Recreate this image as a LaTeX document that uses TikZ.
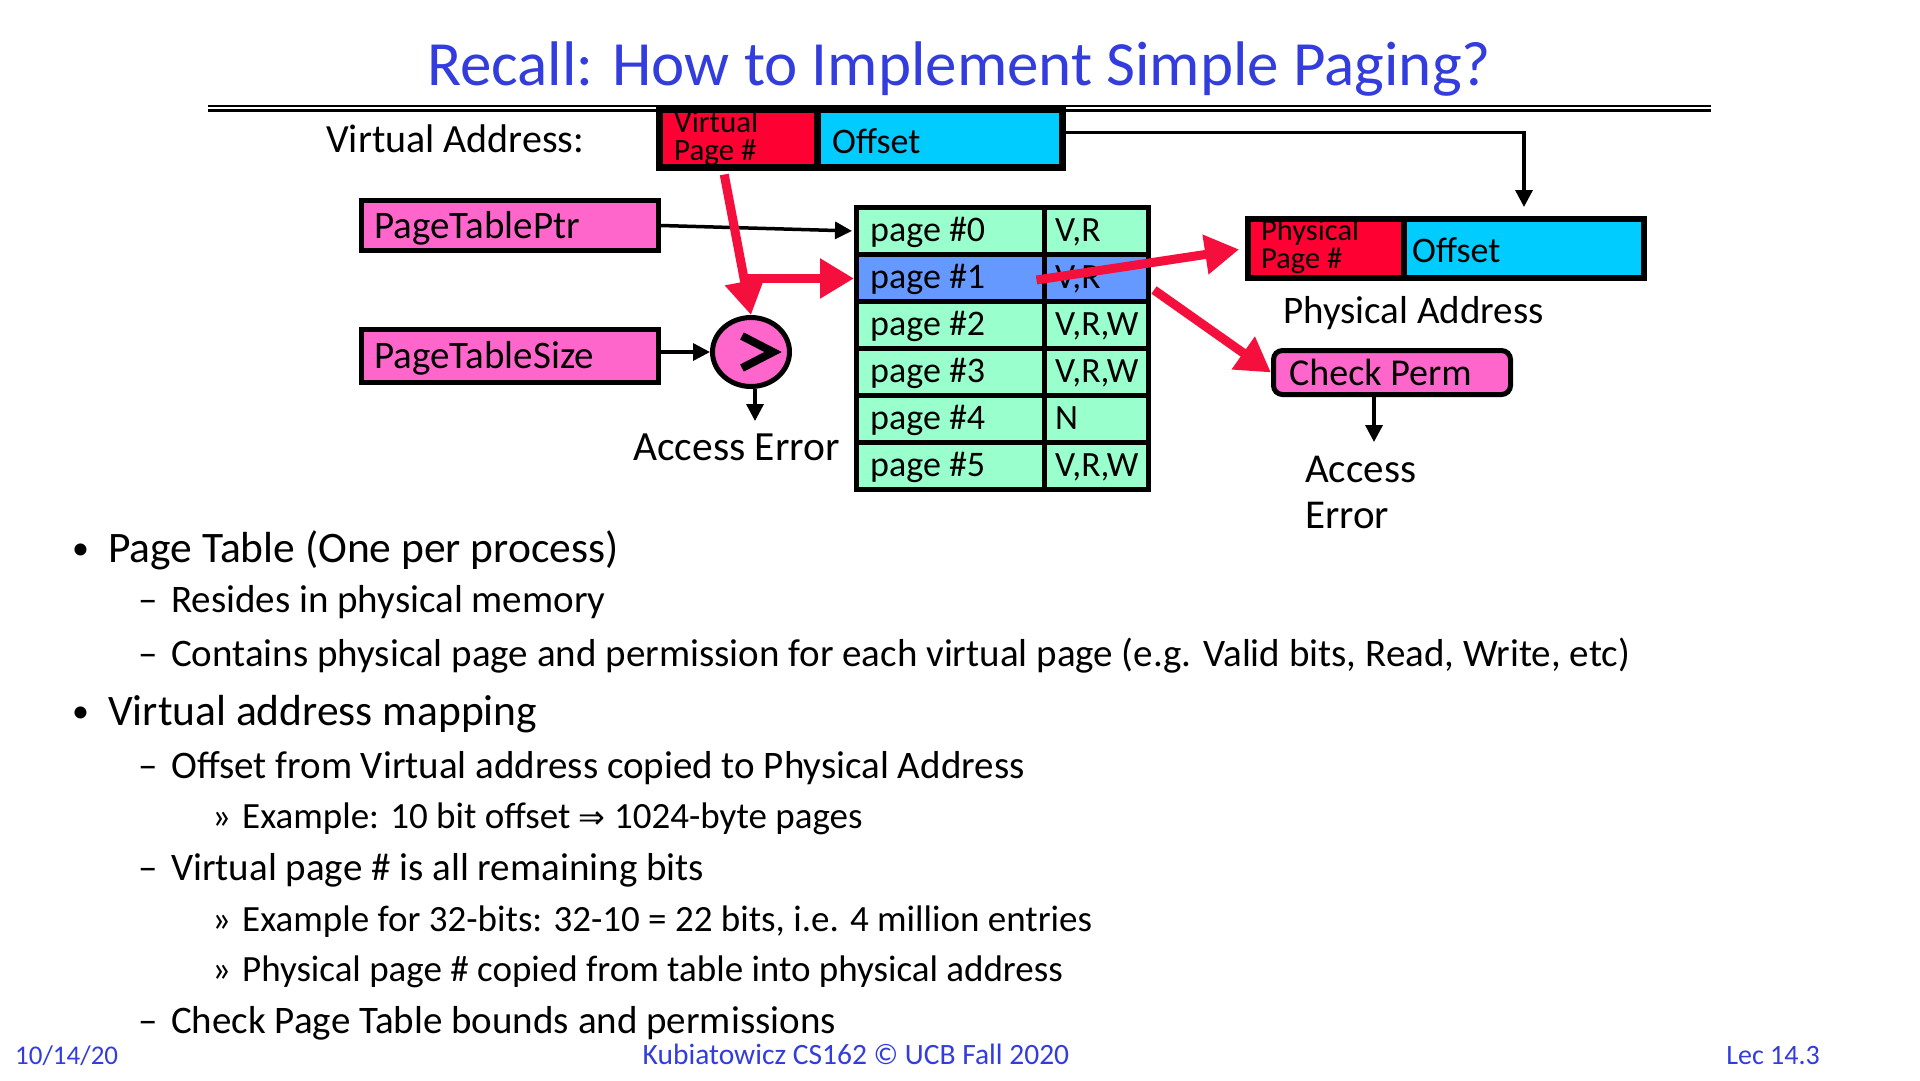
\documentclass[tikz,border=0pt]{standalone}
\usepackage{fontspec}
\setmainfont{Carlito}
\newfontfamily\symfont{DejaVu Sans}
\usetikzlibrary{arrows.meta,shapes.geometric,calc}

\definecolor{titleblue}{RGB}{51,61,221}
\definecolor{vred}{RGB}{255,0,51}
\definecolor{vcyan}{RGB}{0,204,255}
\definecolor{vpink}{RGB}{255,102,204}
\definecolor{vgreen}{RGB}{153,255,204}
\definecolor{vblue}{RGB}{102,153,255}
\definecolor{arrred}{RGB}{245,15,60}

\newcommand\fsz[1]{\fontsize{#1}{#1}\selectfont}

\tikzset{
  field/.style={draw=black, line width=7, inner sep=0, minimum height=58},
  regbox/.style={draw=black, line width=5, fill=vpink, inner sep=0, minimum width=297},
  cell/.style={draw=black, line width=5, inner sep=0, minimum height=47},
  lbl/.style={anchor=base west, inner sep=0, font=\fsz{39}},
  blk/.style={line width=3.5, -{Triangle[length=17pt,width=17pt]}},
  redarr/.style={draw=arrred, line width=9, -{Triangle[length=34pt,width=38pt]}},
  lvlA/.style={anchor=base west, inner sep=0, font=\fsz{43.5}},
  lvlB/.style={anchor=base west, inner sep=0, font=\fsz{39}},
  lvlC/.style={anchor=base west, inner sep=0, font=\fsz{37}},
  foot/.style={inner sep=0, font=\fsz{28}, text=titleblue}
}

\begin{document}
\begin{tikzpicture}[x=1pt,y=-1pt]
\useasboundingbox (0,0) rectangle (1920,1080);

% title and double rule
\node[anchor=base, inner sep=0, text=titleblue, font=\fsz{63}] (title) at (959,85) {Recall: How to Implement Simple Paging?};
\draw[line width=2.5] (208,106) -- (1711,106);
\draw[line width=2.5] (208,110.5) -- (1711,110.5);

% virtual address
\node[lbl, font=\fsz{40}] (valbl) at (326,152) {Virtual Address:};
\node[field, fill=vred, minimum width=157.5] (vpn) at (738.25,138.5) {};
\node[field, fill=vcyan, minimum width=245.5] (voff) at (939.75,138.5) {};
\node[lbl, font=\fsz{31}] (vpnA) at (674,132) {Virtual};
\node[lbl, font=\fsz{31}] (vpnB) at (674,160) {Page \#};
\node[lbl, font=\fsz{36}] (vofft) at (832,153) {Offset};

% registers
\node[regbox, minimum height=50] (ptp) at (510,225.5) {};
\node[lbl] (ptpt) at (374,238) {PageTablePtr};
\node[regbox, minimum height=53] (pts) at (510,356) {};
\node[lbl] (ptst) at (374,368.5) {PageTableSize};

% comparator
\node[ellipse, draw=black, line width=5, fill=vpink, minimum width=77, minimum height=69, inner sep=0] (cmp) at (751,352) {};
\draw[line width=8, miter limit=10] ($(cmp.center)+(-9,-16)$) -- ($(cmp.center)+(22,0)$) -- ($(cmp.center)+(-9,16)$);
\node[lbl, font=\fsz{41.5}] (err1) at (633,460) {Access Error};
\coordinate (err1tip) at (755,421);

% page table
\foreach \i/\p/\c in {0/{V,R}/vgreen, 1/{V,R}/vblue, 2/{V,R,W}/vgreen, 3/{V,R,W}/vgreen, 4/{N}/vgreen, 5/{V,R,W}/vgreen}{
  \node[cell, fill=\c, minimum width=187.5] (pg\i) at (950.25,231+47*\i) {};
  \node[cell, fill=\c, minimum width=104.5] (pm\i) at (1096.25,231+47*\i) {};
  \node[lbl, font=\fsz{36}] (pgt\i) at (870,241.5+47*\i) {page \#\i};
  \node[lbl, font=\fsz{35.5}] (pmt\i) at (1055,241.5+47*\i) {\p};
}

% physical address
\node[field, line width=6, fill=vred, minimum width=156, minimum height=59] (pvpn) at (1326,248.5) {};
\node[field, line width=6, fill=vcyan, minimum width=240, minimum height=59] (poff) at (1524,248.5) {};
\node[lbl, font=\fsz{30.5}] (pvpnA) at (1261,240) {Physical};
\node[lbl, font=\fsz{30.5}] (pvpnB) at (1261,268) {Page \#};
\node[lbl, font=\fsz{36}] (pofft) at (1412,262) {Offset};
\node[lbl] (palbl) at (1283,323) {Physical Address};

% permission check
\node[draw=black, line width=5, fill=vpink, rounded corners=9, minimum width=237, minimum height=44, inner sep=0] (chk) at (1392,372.5) {};
\node[lbl, font=\fsz{38}] (chkt) at (1289,385) {Check Perm};
\node[lbl, font=\fsz{41}] (err2a) at (1305,482) {Access};
\node[lbl, font=\fsz{41}] (err2b) at (1305,528) {Error};
\coordinate (err2tip) at (1374,442);

% black connectors
\draw[blk, shorten >=2] (ptp.east) -- (pg0.west);
\draw[blk] (pts.east |- cmp.west) -- (cmp.west);
\draw[blk] (cmp.south -| err1tip) -- (err1tip);
\draw[blk, shorten >=9] ($(voff.east)+(0,-6)$) -| (poff.north);
\draw[blk] (chk.south -| err2tip) -- (err2tip);

% red translation path
\coordinate (vstart) at ($(vpn.south)+(-14,3.5)$);
\draw[redarr] (vstart) -- (cmp.north);
\coordinate (vbranch) at ($(vstart)!0.74!(cmp.north)$);
\draw[redarr] (vbranch) -- (vbranch -| pg1.west);
\coordinate (rstart) at ($(pg1.east)+(-10,2)$);
\draw[redarr, shorten >=6] (rstart) -- (pvpn.west);
\coordinate (cstart) at ($(pm1.south east)+(3,-14)$);
\draw[redarr] (cstart) -- (chk.west);

% bullet list
\node[lvlA, font=\fsz{34}] (b1m) at (72,559) {\textbullet};
\node[lvlA] (b1) at (108,562) {Page Table (One per process)};
\node[lvlB] (b2m) at (138,612) {–};
\node[lvlB] (b2) at (171,612) {Resides in physical memory};
\node[lvlB] (b3m) at (138,666) {–};
\node[lvlB] (b3) at (171,666) {Contains physical page and permission for each virtual page (e.g. Valid bits, Read, Write, etc)};
\node[lvlA, font=\fsz{34}] (b4m) at (72,722) {\textbullet};
\node[lvlA] (b4) at (108,725) {Virtual address mapping};
\node[lvlB] (b5m) at (138,778) {–};
\node[lvlB] (b5) at (171,778) {Offset from Virtual address copied to Physical Address};
\node[lvlC] (b6m) at (212,828) {»};
\node[lvlC] (b6) at (242,828) {Example: 10 bit offset {\symfont\fsz{32}⇒} 1024-byte pages};
\node[lvlB] (b7m) at (138,880) {–};
\node[lvlB] (b7) at (171,880) {Virtual page \# is all remaining bits};
\node[lvlC] (b8m) at (212,931) {»};
\node[lvlC] (b8) at (242,931) {Example for 32-bits: 32-10 = 22 bits, i.e. 4 million entries};
\node[lvlC] (b9m) at (212,981) {»};
\node[lvlC] (b9) at (242,981) {Physical page \# copied from table into physical address};
\node[lvlB] (b10m) at (138,1033) {–};
\node[lvlB] (b10) at (171,1033) {Check Page Table bounds and permissions};

% footer
\node[foot, anchor=base west, font=\fsz{27}] (fdate) at (15,1064) {10/14/20};
\node[foot, anchor=base, font=\fsz{29.5}] (fmid) at (856,1064) {Kubiatowicz CS162 \textcopyright{} UCB Fall 2020};
\node[foot, anchor=base east] (flec) at (1820,1064) {Lec 14.3};
\end{tikzpicture}
\end{document}
